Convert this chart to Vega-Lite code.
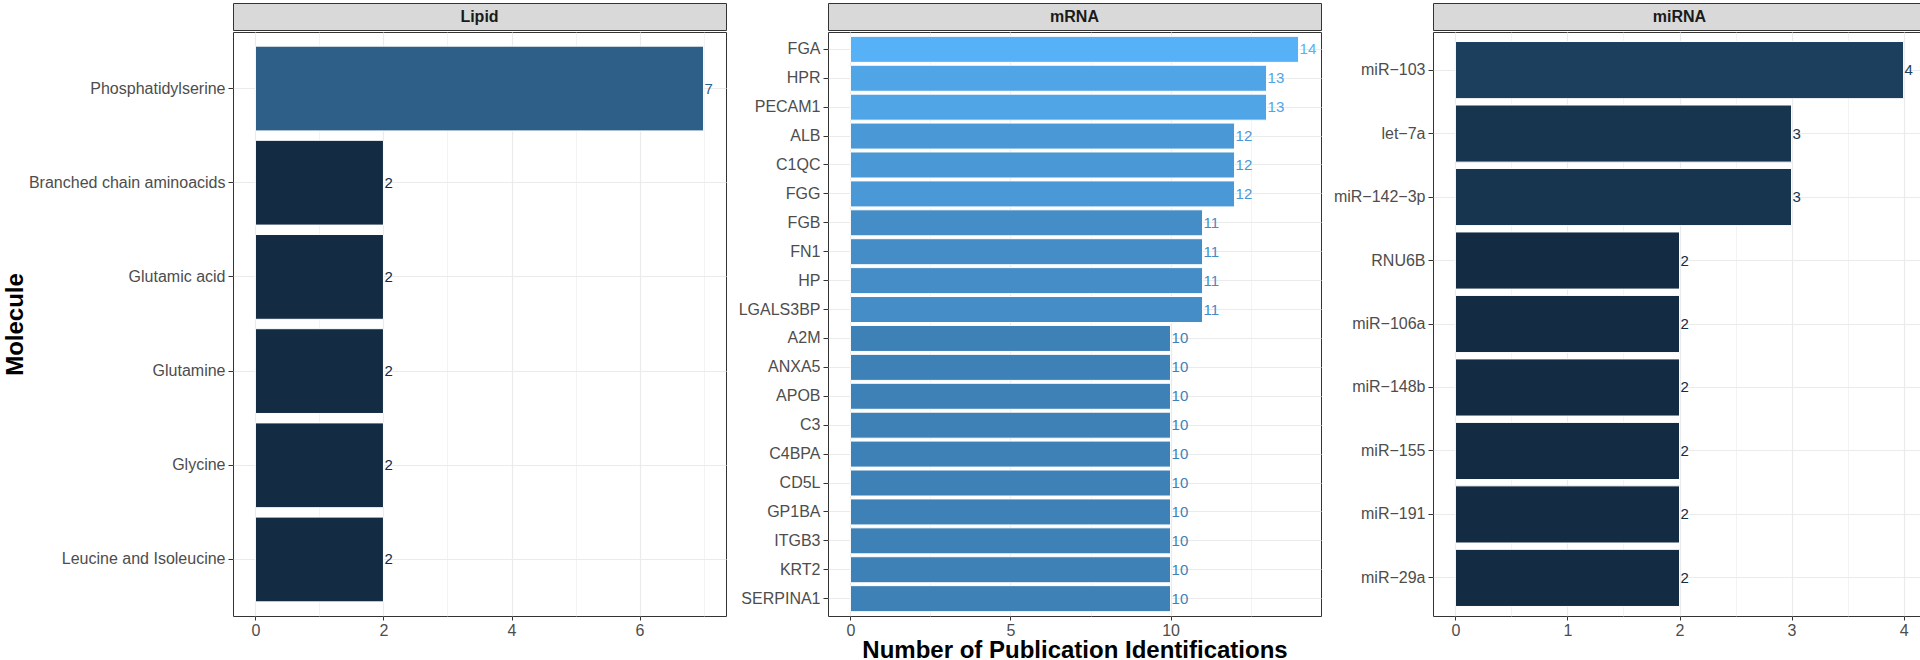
{
  "$schema": "https://vega.github.io/schema/vega-lite/v6.json",
  "padding": {"left": 2, "top": 2, "right": 0, "bottom": 0},
  "config": {
    "font": "Liberation Sans",
    "view": {"stroke": "#333333", "strokeWidth": 1},
    "axis": {
      "labelFont": "Liberation Sans",
      "labelFontSize": 16,
      "labelColor": "#4D4D4D",
      "tickColor": "#333333",
      "tickSize": 5,
      "tickWidth": 1,
      "labelPadding": 3,
      "domain": false,
      "gridColor": "#EBEBEB",
      "gridWidth": 1.2,
      "titleFont": "Liberation Sans",
      "titleFontSize": 24,
      "titleFontWeight": "bold",
      "titleColor": "#000000",
      "labelOverlap": false,
      "labelLimit": 400
    },
    "axisX": {"tickSize": 4, "labelPadding": 2}
  },
  "datasets": {
    "molecules": [
      {"type": "Lipid", "molecule": "Phosphatidylserine", "n": 7},
      {"type": "Lipid", "molecule": "Branched chain aminoacids", "n": 2},
      {"type": "Lipid", "molecule": "Glutamic acid", "n": 2},
      {"type": "Lipid", "molecule": "Glutamine", "n": 2},
      {"type": "Lipid", "molecule": "Glycine", "n": 2},
      {"type": "Lipid", "molecule": "Leucine and Isoleucine", "n": 2},
      {"type": "mRNA", "molecule": "FGA", "n": 14},
      {"type": "mRNA", "molecule": "HPR", "n": 13},
      {"type": "mRNA", "molecule": "PECAM1", "n": 13},
      {"type": "mRNA", "molecule": "ALB", "n": 12},
      {"type": "mRNA", "molecule": "C1QC", "n": 12},
      {"type": "mRNA", "molecule": "FGG", "n": 12},
      {"type": "mRNA", "molecule": "FGB", "n": 11},
      {"type": "mRNA", "molecule": "FN1", "n": 11},
      {"type": "mRNA", "molecule": "HP", "n": 11},
      {"type": "mRNA", "molecule": "LGALS3BP", "n": 11},
      {"type": "mRNA", "molecule": "A2M", "n": 10},
      {"type": "mRNA", "molecule": "ANXA5", "n": 10},
      {"type": "mRNA", "molecule": "APOB", "n": 10},
      {"type": "mRNA", "molecule": "C3", "n": 10},
      {"type": "mRNA", "molecule": "C4BPA", "n": 10},
      {"type": "mRNA", "molecule": "CD5L", "n": 10},
      {"type": "mRNA", "molecule": "GP1BA", "n": 10},
      {"type": "mRNA", "molecule": "ITGB3", "n": 10},
      {"type": "mRNA", "molecule": "KRT2", "n": 10},
      {"type": "mRNA", "molecule": "SERPINA1", "n": 10},
      {"type": "miRNA", "molecule": "miR−103", "n": 4},
      {"type": "miRNA", "molecule": "let−7a", "n": 3},
      {"type": "miRNA", "molecule": "miR−142−3p", "n": 3},
      {"type": "miRNA", "molecule": "RNU6B", "n": 2},
      {"type": "miRNA", "molecule": "miR−106a", "n": 2},
      {"type": "miRNA", "molecule": "miR−148b", "n": 2},
      {"type": "miRNA", "molecule": "miR−155", "n": 2},
      {"type": "miRNA", "molecule": "miR−191", "n": 2},
      {"type": "miRNA", "molecule": "miR−29a", "n": 2}
    ]
  },
  "spacing": 10,
  "hconcat": [
    {
      "spacing": 0,
      "vconcat": [
        {
          "width": 493, "height": 27,
          "data": {"name": "molecules"},
          "transform": [{"filter": "datum.type === 'Lipid'"}, {"aggregate": [{"op": "count", "as": "k"}], "groupby": ["type"]}],
          "view": {"fill": "#D9D9D9", "stroke": "#333333"},
          "mark": {"type": "text", "fontWeight": "bold", "fontSize": 16, "color": "#1A1A1A", "baseline": "middle"},
          "encoding": {"text": {"field": "type", "type": "nominal"}}
        },
        {
          "width": 493, "height": 584,
          "data": {"name": "molecules"},
          "transform": [{"filter": "datum.type === 'Lipid'"}],
          "encoding": {
            "y": {"field": "molecule", "type": "nominal", "sort": null,
                  "scale": {"paddingInner": 0.1, "paddingOuter": 0.15},
                  "axis": {"title": "Molecule", "grid": true, "minExtent": 202, "maxExtent": 202, "titlePadding": 4, "bandPosition": 0.5}},
            "x": {"field": "n", "type": "quantitative",
                  "scale": {"domain": [-0.35, 7.35], "nice": false, "zero": false},
                  "axis": {"title": null, "values": [0, 1, 2, 3, 4, 5, 6, 7],
                           "labelExpr": "datum.value % 2 === 0 ? '' + datum.value : ''",
                           "tickOpacity": {"condition": {"test": "datum.value % 2 !== 0", "value": 0}, "value": 1},
                           "gridWidth": {"condition": {"test": "datum.value % 2 !== 0", "value": 0.6}, "value": 1.2}}}
          },
          "layer": [
            {"mark": {"type": "bar", "stroke": "white", "strokeWidth": 1},
             "encoding": {"x2": {"datum": 0},
                          "color": {"field": "n", "type": "quantitative", "scale": {"domain": [2, 14], "range": ["#132B43", "#56B1F7"], "interpolate": "lab"}, "legend": null}}},
            {"mark": {"type": "text", "align": "left", "baseline": "middle", "dx": 1, "fontSize": 15},
             "encoding": {"text": {"field": "n", "type": "quantitative"},
                          "color": {"field": "n", "type": "quantitative", "legend": null}}}
          ]
        }
      ]
    },
    {
      "spacing": 0,
      "vconcat": [
        {
          "width": 493, "height": 27,
          "data": {"name": "molecules"},
          "transform": [{"filter": "datum.type === 'mRNA'"}, {"aggregate": [{"op": "count", "as": "k"}], "groupby": ["type"]}],
          "view": {"fill": "#D9D9D9", "stroke": "#333333"},
          "mark": {"type": "text", "fontWeight": "bold", "fontSize": 16, "color": "#1A1A1A", "baseline": "middle"},
          "encoding": {"text": {"field": "type", "type": "nominal"}}
        },
        {
          "width": 493, "height": 584,
          "data": {"name": "molecules"},
          "transform": [{"filter": "datum.type === 'mRNA'"}],
          "encoding": {
            "y": {"field": "molecule", "type": "nominal", "sort": null,
                  "scale": {"paddingInner": 0.1, "paddingOuter": 0.15},
                  "axis": {"title": null, "grid": true, "minExtent": 86, "maxExtent": 86, "bandPosition": 0.5}},
            "x": {"field": "n", "type": "quantitative",
                  "scale": {"domain": [-0.7, 14.7], "nice": false, "zero": false},
                  "axis": {"title": "Number of Publication Identifications", "titlePadding": 0,
                           "values": [0, 2.5, 5, 7.5, 10, 12.5],
                           "labelExpr": "datum.value % 5 === 0 ? '' + datum.value : ''",
                           "tickOpacity": {"condition": {"test": "datum.value % 5 !== 0", "value": 0}, "value": 1},
                           "gridWidth": {"condition": {"test": "datum.value % 5 !== 0", "value": 0.6}, "value": 1.2}}}
          },
          "layer": [
            {"mark": {"type": "bar", "stroke": "white", "strokeWidth": 1},
             "encoding": {"x2": {"datum": 0},
                          "color": {"field": "n", "type": "quantitative", "legend": null}}},
            {"mark": {"type": "text", "align": "left", "baseline": "middle", "dx": 1, "fontSize": 15},
             "encoding": {"text": {"field": "n", "type": "quantitative"},
                          "color": {"field": "n", "type": "quantitative", "legend": null}}}
          ]
        }
      ]
    },
    {
      "spacing": 0,
      "vconcat": [
        {
          "width": 493, "height": 27,
          "data": {"name": "molecules"},
          "transform": [{"filter": "datum.type === 'miRNA'"}, {"aggregate": [{"op": "count", "as": "k"}], "groupby": ["type"]}],
          "view": {"fill": "#D9D9D9", "stroke": "#333333"},
          "mark": {"type": "text", "fontWeight": "bold", "fontSize": 16, "color": "#1A1A1A", "baseline": "middle"},
          "encoding": {"text": {"field": "type", "type": "nominal"}}
        },
        {
          "width": 493, "height": 584,
          "data": {"name": "molecules"},
          "transform": [{"filter": "datum.type === 'miRNA'"}],
          "encoding": {
            "y": {"field": "molecule", "type": "nominal", "sort": null,
                  "scale": {"paddingInner": 0.1, "paddingOuter": 0.15},
                  "axis": {"title": null, "grid": true, "minExtent": 95, "maxExtent": 95, "bandPosition": 0.5}},
            "x": {"field": "n", "type": "quantitative",
                  "scale": {"domain": [-0.2, 4.2], "nice": false, "zero": false},
                  "axis": {"title": null,
                           "values": [0, 0.5, 1, 1.5, 2, 2.5, 3, 3.5, 4],
                           "labelExpr": "datum.value % 1 === 0 ? '' + datum.value : ''",
                           "tickOpacity": {"condition": {"test": "datum.value % 1 !== 0", "value": 0}, "value": 1},
                           "gridWidth": {"condition": {"test": "datum.value % 1 !== 0", "value": 0.6}, "value": 1.2}}}
          },
          "layer": [
            {"mark": {"type": "bar", "stroke": "white", "strokeWidth": 1},
             "encoding": {"x2": {"datum": 0},
                          "color": {"field": "n", "type": "quantitative", "legend": null}}},
            {"mark": {"type": "text", "align": "left", "baseline": "middle", "dx": 1, "fontSize": 15},
             "encoding": {"text": {"field": "n", "type": "quantitative"},
                          "color": {"field": "n", "type": "quantitative", "legend": null}}}
          ]
        }
      ]
    }
  ]
}
